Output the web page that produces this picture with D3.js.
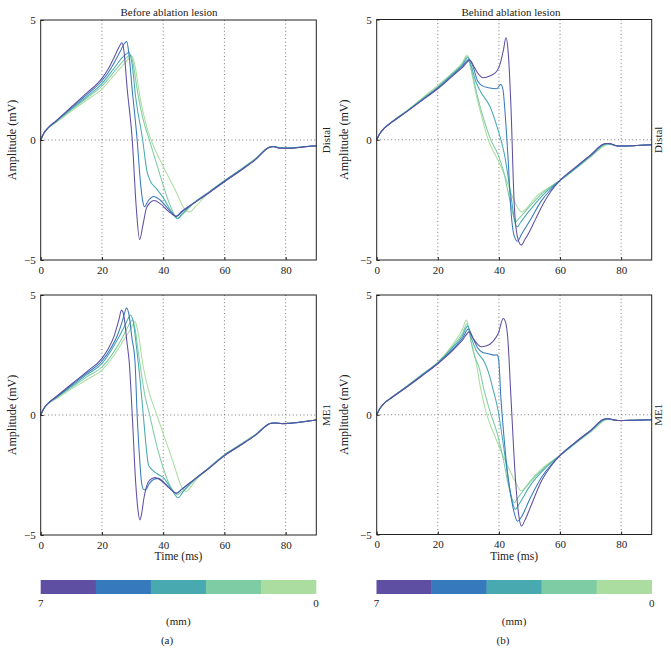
<!DOCTYPE html>
<html><head><meta charset="utf-8">
<script src="https://cdn.jsdelivr.net/npm/d3@7"></script>
<style>
body{margin:0;background:#fff}
text{font-family:"Liberation Serif","Times New Roman",serif;fill:#222}
</style>
</head><body><svg id="c" width="671" height="662"></svg>
<script>
// ---------- data ----------
const lesionColors = ["#5e4fa2","#3679bc","#48a9b0","#7ecca4","#abdda0"]; // 7 mm ... 0 mm
const distanceEdges = [7, 5.6, 4.2, 2.8, 1.4, 0];
const distanceTickLabels = ["7","0"];
const timeTicks = [0,20,40,60,80];
const ampTicks = [-5,0,5];
const columnTitles = ["Before ablation lesion","Behind ablation lesion"];
const rowLabels = ["Distal","ME1"];
const panelLetters = ["(a)","(b)"];

// Before ablation lesion, distal electrode (7 mm -> 0 mm)
const beforeDistal7 = [[0,0],[1,0.28],[2.5,0.52],[5,0.8],[10,1.38],[15,1.95],[20,2.57],[22,2.95],[24,3.45],[25.5,3.85],[26.5,4.05],[27.2,3.7],[28.2,2.2],[29.9,0],[31.2,-2.8],[32.3,-4.15],[33.3,-3.6],[34.5,-2.85],[35.8,-2.6],[37,-2.52],[39,-2.65],[42,-3.0],[44.4,-3.19],[46,-3.0],[50,-2.64],[55,-2.2],[60,-1.74],[65,-1.3],[70,-0.84],[74.8,-0.3],[76,-0.28],[78,-0.34],[82,-0.34],[86,-0.29],[90,-0.24]];
const beforeDistal56 = [[0,0],[1,0.28],[2.5,0.52],[5,0.79],[10,1.34],[15,1.88],[20,2.47],[22,2.8],[24,3.22],[26,3.7],[27.3,4.02],[28.1,4.1],[28.8,3.6],[29.8,2.2],[31.5,0],[32.6,-1.8],[33.4,-2.6],[33.9,-2.78],[35,-2.55],[36.9,-2.35],[39,-2.5],[42,-2.92],[44.3,-3.17],[46,-2.98],[50,-2.62],[55,-2.18],[60,-1.72],[65,-1.28],[70,-0.82],[74.9,-0.29],[76,-0.27],[78,-0.33],[82,-0.33],[86,-0.28],[90,-0.24]];
const beforeDistal42 = [[0,0],[1,0.27],[2.5,0.51],[5,0.77],[10,1.3],[15,1.8],[20,2.35],[24,3.0],[27,3.48],[28.9,3.65],[29.8,3.2],[31,1.8],[33.3,0],[34.7,-1.3],[35.9,-1.74],[37.5,-1.98],[40,-2.4],[42.5,-2.95],[44.7,-3.27],[46,-3.1],[50,-2.62],[55,-2.17],[60,-1.71],[65,-1.27],[70,-0.81],[75,-0.28],[76,-0.27],[78,-0.33],[82,-0.33],[86,-0.28],[90,-0.24]];
const beforeDistal28 = [[0,0],[1,0.27],[2.5,0.5],[5,0.75],[10,1.26],[15,1.74],[20,2.25],[24,2.85],[27,3.3],[29.4,3.54],[30.3,3.1],[31.5,2.1],[33,1.1],[35.6,-0.05],[38,-1.05],[40.5,-2.08],[42.5,-2.8],[44.8,-3.28],[46.2,-3.12],[50,-2.62],[55,-2.16],[60,-1.7],[65,-1.26],[70,-0.8],[75.1,-0.28],[76,-0.27],[78,-0.32],[82,-0.33],[86,-0.28],[90,-0.24]];
const beforeDistal14 = [[0,0],[1,0.27],[2.5,0.5],[5,0.73],[10,1.2],[15,1.66],[20,2.12],[24,2.7],[27.5,3.2],[29.8,3.5],[30.7,3.15],[32.4,1.8],[34.6,0.56],[37,-0.3],[39.5,-0.97],[44,-2.1],[47.5,-2.95],[48.6,-3.0],[50.5,-2.78],[55,-2.17],[60,-1.7],[65,-1.25],[70,-0.79],[75.3,-0.27],[76.5,-0.27],[78,-0.31],[82,-0.32],[86,-0.28],[90,-0.24]];

// Behind ablation lesion, distal electrode
const behindDistal7 = [[0,0],[1,0.25],[2.5,0.48],[5,0.73],[10,1.18],[15,1.65],[20,2.12],[25,2.67],[28,3.0],[30.5,3.3],[32,3.0],[33.5,2.7],[34.9,2.58],[37,2.65],[39.3,2.85],[40.5,3.2],[41.5,3.75],[42.3,4.24],[43,3.7],[43.9,1.5],[45,-2.65],[46,-4.0],[47.3,-4.38],[48.5,-4.15],[50.2,-3.77],[52,-3.3],[54.5,-2.66],[57,-2.15],[60,-1.69],[65,-1.15],[70,-0.63],[74.8,-0.16],[76,-0.16],[79,-0.26],[84,-0.25],[90,-0.21]];
const behindDistal56 = [[0,0],[1,0.25],[2.5,0.48],[5,0.74],[10,1.19],[15,1.67],[20,2.15],[25,2.71],[28,3.05],[30.3,3.35],[31.5,3.05],[33,2.45],[34.5,2.25],[37,2.15],[39.3,2.12],[40.6,2.3],[41.3,2.1],[42.2,0.8],[42.9,-0.57],[44.1,-3.2],[45,-4.0],[46.1,-4.22],[47.3,-3.95],[50.2,-3.35],[54,-2.52],[57,-2.07],[60,-1.69],[65,-1.17],[70,-0.65],[75,-0.17],[76.2,-0.17],[79,-0.26],[84,-0.25],[90,-0.21]];
const behindDistal42 = [[0,0],[1,0.25],[2.5,0.48],[5,0.74],[10,1.2],[15,1.69],[20,2.18],[25,2.75],[28,3.1],[29.9,3.42],[31,3.05],[32.5,2.4],[34,2.0],[37,1.4],[39.6,0.45],[41.8,-0.6],[43.9,-2.3],[45.5,-3.55],[46,-3.62],[47,-3.45],[50,-2.95],[54,-2.35],[57,-2.0],[60,-1.69],[65,-1.19],[70,-0.67],[75.2,-0.17],[76.4,-0.18],[79,-0.26],[84,-0.25],[90,-0.21]];
const behindDistal28 = [[0,0],[1,0.25],[2.5,0.48],[5,0.75],[10,1.21],[15,1.71],[20,2.2],[25,2.78],[28,3.15],[29.7,3.46],[31,2.9],[32.8,1.9],[34.7,1.0],[37,0.1],[39.8,-0.65],[41.5,-1.3],[43.2,-2.3],[44.8,-3.2],[45.4,-3.42],[46.5,-3.28],[50,-2.78],[54,-2.25],[57,-1.95],[60,-1.69],[65,-1.2],[70,-0.69],[75.5,-0.18],[76.6,-0.19],[79,-0.26],[84,-0.25],[90,-0.21]];
const behindDistal14 = [[0,0],[1,0.25],[2.5,0.48],[5,0.75],[10,1.22],[15,1.74],[20,2.26],[25,2.81],[28,3.2],[29.6,3.52],[31,2.85],[32.5,1.9],[34.3,1.0],[36.5,0.0],[39.5,-0.8],[41.8,-1.45],[44.7,-2.45],[47.5,-3.0],[49,-2.85],[52.3,-2.35],[55,-2.1],[60,-1.7],[65,-1.22],[70,-0.72],[75.8,-0.2],[77,-0.21],[79,-0.26],[84,-0.25],[90,-0.21]];

// Before ablation lesion, ME1 electrode
const beforeME17 = [[0,0],[1,0.27],[2.5,0.5],[5,0.76],[10,1.28],[15,1.8],[20,2.36],[22,2.75],[24,3.3],[25.5,3.95],[26.4,4.37],[27.2,4.1],[28.2,3.0],[28.9,2.22],[29.9,0],[31,-2.78],[31.8,-4.0],[32.4,-4.37],[33.1,-4.0],[33.7,-3.47],[34.6,-2.95],[35.6,-2.71],[37.3,-2.61],[39.5,-2.75],[42,-3.05],[44.5,-3.26],[46,-3.1],[50,-2.7],[55,-2.22],[60,-1.7],[65,-1.28],[70,-0.86],[75,-0.35],[76,-0.33],[79,-0.36],[84,-0.31],[90,-0.21]];
const beforeME156 = [[0,0],[1,0.27],[2.5,0.5],[5,0.74],[10,1.24],[15,1.74],[20,2.25],[23,2.8],[25,3.3],[26.5,3.85],[27.5,4.3],[28,4.47],[28.8,4.2],[29.8,3.2],[30.8,2.22],[31.5,0],[32.4,-2.0],[32.9,-2.78],[33.6,-3.1],[34.2,-3.12],[35.5,-2.85],[37,-2.68],[38.4,-2.64],[41,-2.9],[44.3,-3.26],[46,-3.1],[50,-2.7],[55,-2.2],[60,-1.68],[65,-1.27],[70,-0.85],[75.1,-0.34],[76.2,-0.33],[79,-0.36],[84,-0.31],[90,-0.21]];
const beforeME142 = [[0,0],[1,0.26],[2.5,0.49],[5,0.72],[10,1.19],[15,1.67],[20,2.15],[24,2.9],[27,3.6],[28.5,4.0],[29.3,4.17],[30.2,3.9],[31.3,2.8],[32.4,1.53],[33.5,0],[34.5,-1.4],[35.2,-2.08],[36.5,-2.3],[38,-2.45],[40,-2.6],[42.5,-3.05],[44.9,-3.45],[46.5,-3.2],[50,-2.72],[55,-2.2],[60,-1.67],[65,-1.26],[70,-0.84],[75.2,-0.34],[76.4,-0.33],[79,-0.35],[84,-0.31],[90,-0.21]];
const beforeME128 = [[0,0],[1,0.26],[2.5,0.48],[5,0.7],[10,1.14],[15,1.59],[20,2.0],[24,2.65],[27,3.3],[29,3.8],[30,3.98],[30.8,3.6],[32,2.5],[34,0.83],[35.6,0],[37,-0.8],[38.4,-1.53],[40,-2.2],[41.6,-2.78],[43.5,-3.2],[44.6,-3.33],[46,-3.2],[50,-2.72],[55,-2.19],[60,-1.66],[65,-1.25],[70,-0.83],[75.3,-0.34],[76.5,-0.33],[79,-0.35],[84,-0.3],[90,-0.21]];
const beforeME114 = [[0,0],[1,0.25],[2.5,0.47],[5,0.67],[10,1.08],[15,1.47],[20,1.87],[24,2.5],[27,3.1],[29.5,3.6],[30.8,3.9],[31.7,3.5],[33.5,2.0],[35.5,0.9],[37.8,0.05],[40.5,-0.95],[43.2,-1.94],[46,-2.99],[47.6,-3.19],[48.7,-3.05],[50,-2.82],[55,-2.2],[60,-1.65],[65,-1.24],[70,-0.82],[75.5,-0.34],[76.7,-0.33],[79,-0.35],[84,-0.3],[90,-0.21]];

// Behind ablation lesion, ME1 electrode
const behindME17 = [[0,0],[1,0.25],[2.5,0.48],[5,0.72],[10,1.17],[15,1.64],[20,2.13],[25,2.7],[28,3.1],[30.3,3.46],[31.5,3.2],[33,2.95],[34.1,2.84],[36,2.88],[38,3.05],[39.8,3.4],[41.4,4.02],[42.2,3.85],[42.9,3.2],[43.9,0.82],[45.4,-2.67],[46.5,-4.2],[47.4,-4.65],[48.5,-4.4],[50.5,-3.8],[54,-2.75],[57,-2.15],[60,-1.7],[65,-1.15],[70,-0.65],[74.8,-0.17],[76,-0.17],[79,-0.24],[84,-0.23],[90,-0.21]];
const behindME156 = [[0,0],[1,0.25],[2.5,0.48],[5,0.72],[10,1.18],[15,1.66],[20,2.15],[25,2.75],[28,3.18],[30,3.58],[31.5,3.2],[33,2.8],[34.7,2.6],[36.5,2.55],[38.5,2.49],[39.4,2.5],[39.9,2.3],[40.7,0.6],[41.5,-0.7],[42.7,-2.3],[44,-3.45],[45,-4.1],[46.1,-4.45],[47.2,-4.3],[50,-3.55],[54,-2.6],[57,-2.1],[60,-1.7],[65,-1.16],[70,-0.66],[75,-0.17],[76.2,-0.18],[79,-0.24],[84,-0.23],[90,-0.21]];
const behindME142 = [[0,0],[1,0.25],[2.5,0.48],[5,0.73],[10,1.19],[15,1.68],[20,2.17],[25,2.82],[28,3.28],[29.8,3.7],[31,3.2],[32.5,2.7],[35.2,2.21],[36.5,1.8],[38,1.1],[39.6,0.26],[41.8,-1.56],[43.9,-3.37],[45.4,-3.95],[46.5,-3.75],[50,-3.0],[55,-2.25],[60,-1.7],[65,-1.18],[70,-0.68],[75.2,-0.18],[76.4,-0.19],[79,-0.24],[84,-0.23],[90,-0.21]];
const behindME128 = [[0,0],[1,0.25],[2.5,0.48],[5,0.73],[10,1.2],[15,1.69],[20,2.18],[25,2.87],[28,3.38],[29.6,3.8],[31,3.0],[32.2,2.4],[33.6,1.93],[35,1.1],[36.8,0.26],[39.6,-0.86],[41.5,-1.9],[42.9,-2.81],[44.3,-3.5],[45,-3.68],[46,-3.5],[50,-2.85],[55,-2.2],[60,-1.7],[65,-1.19],[70,-0.7],[75.4,-0.19],[76.6,-0.2],[79,-0.24],[84,-0.23],[90,-0.21]];
const behindME114 = [[0,0],[1,0.25],[2.5,0.48],[5,0.74],[10,1.21],[15,1.7],[20,2.2],[25,2.95],[28,3.55],[29.4,3.95],[30.5,3.3],[31.5,2.7],[32.5,2.21],[34,1.1],[35.8,0.12],[39,-1.0],[42.3,-1.97],[45,-2.7],[47.3,-3.17],[48.5,-3.05],[50,-2.8],[55,-2.15],[60,-1.7],[65,-1.2],[70,-0.72],[75.7,-0.2],[77,-0.21],[79,-0.24],[84,-0.23],[90,-0.21]];

// ---------- layout ----------
const svg = d3.select("#c");
const panels = [
  {col:0,row:0,left:40.7,right:316.3,top:20,bottom:260,series:[beforeDistal7,beforeDistal56,beforeDistal42,beforeDistal28,beforeDistal14]},
  {col:1,row:0,left:376.7,right:651.7,top:19.5,bottom:260,series:[behindDistal7,behindDistal56,behindDistal42,behindDistal28,behindDistal14]},
  {col:0,row:1,left:40.7,right:316.3,top:295,bottom:535,series:[beforeME17,beforeME156,beforeME142,beforeME128,beforeME114]},
  {col:1,row:1,left:376.7,right:651.7,top:295,bottom:534.5,series:[behindME17,behindME156,behindME142,behindME128,behindME114]}
];

panels.forEach(p => {
  const x = d3.scaleLinear().domain([0,90]).range([p.left,p.right]);
  const y = d3.scaleLinear().domain([-5,5]).range([p.bottom,p.top]);
  const g = svg.append("g");

  // grid (dotted)
  g.selectAll(".gx").data(timeTicks.filter(t=>t>0)).join("line")
    .attr("x1",d=>x(d)).attr("x2",d=>x(d)).attr("y1",p.top).attr("y2",p.bottom)
    .attr("stroke","#555").attr("stroke-width",0.8).attr("stroke-dasharray","1,2.6");
  g.selectAll(".gy").data(ampTicks.filter(v=>v===0)).join("line")
    .attr("x1",p.left).attr("x2",p.right).attr("y1",d=>y(d)).attr("y2",d=>y(d))
    .attr("stroke","#555").attr("stroke-width",0.8).attr("stroke-dasharray","1,2.6");

  // curves: 0 mm drawn first, 7 mm last
  const line = d3.line().x(d=>x(d[0])).y(d=>y(d[1])).curve(d3.curveMonotoneX);
  const order = [4,3,2,1,0];
  order.forEach(i => {
    g.append("path").datum(p.series[i]).attr("d",line)
      .attr("fill","none").attr("stroke",lesionColors[i]).attr("stroke-width",1.05);
  });

  // axes
  const xAxis = d3.axisBottom(x).tickValues(timeTicks).tickSize(-3).tickPadding(6).tickFormat(d3.format("d"));
  const yAxis = d3.axisLeft(y).tickValues(ampTicks).tickSize(-3).tickPadding(5).tickFormat(d=>d<0?"\u2212"+Math.abs(d):String(d));
  const xa = g.append("g").attr("transform",`translate(0,${p.bottom})`).call(xAxis);
  const ya = g.append("g").attr("transform",`translate(${p.left},0)`).call(yAxis);
  [xa,ya].forEach(a=>{
    a.select(".domain").remove();
    a.selectAll("line").attr("stroke","#222");
    a.selectAll("text").attr("font-size",11).attr("fill","#222")
      .style("font-family","'Liberation Serif','Times New Roman',serif");
  });
  // frame
  g.append("rect").attr("x",p.left).attr("y",p.top).attr("width",p.right-p.left).attr("height",p.bottom-p.top)
    .attr("fill","none").attr("stroke","#222").attr("stroke-width",1);

  // y label
  const ylx = p.col===0 ? 13.5 : 345;
  const cy = (p.top+p.bottom)/2;
  g.append("text").attr("transform",`translate(${ylx},${cy}) rotate(-90)`)
    .attr("text-anchor","middle").attr("dominant-baseline","middle").attr("font-size",12)
    .text("Amplitude (mV)");
  // row label
  const rlx = p.col===0 ? 327 : 659;
  g.append("text").attr("transform",`translate(${rlx},${cy}) rotate(-90)`)
    .attr("text-anchor","middle").attr("dominant-baseline","middle").attr("font-size",11)
    .text(rowLabels[p.row]);
  // column title
  if (p.row===0) {
    g.append("text").attr("x", p.col===0?169:511).attr("y",16)
      .attr("text-anchor","middle").attr("font-size",11).text(columnTitles[p.col]);
  } else {
    g.append("text").attr("x",(p.left+p.right)/2).attr("y",559.5)
      .attr("text-anchor","middle").attr("font-size",11.5).text("Time (ms)");
  }
});

// ---------- colour bars ----------
[{left:40.7,right:316,letterX:167},{left:376.5,right:651.7,letterX:503}].forEach((cb,k)=>{
  const s = d3.scaleLinear().domain([7,0]).range([cb.left,cb.right]);
  const g = svg.append("g");
  const segs = d3.range(5).map(i=>({a:distanceEdges[i],b:distanceEdges[i+1],c:lesionColors[i]}));
  g.selectAll("rect").data(segs).join("rect")
    .attr("x",d=>s(d.a)).attr("width",d=>s(d.b)-s(d.a)+0.3)
    .attr("y",580).attr("height",14).attr("fill",d=>d.c);
  g.selectAll(".lbl").data([7,0]).join("text")
    .attr("x",d=>s(d)).attr("y",607).attr("text-anchor","middle").attr("font-size",11)
    .text((d,i)=>distanceTickLabels[i]);
  g.append("text").attr("x",(cb.left+cb.right)/2).attr("y",625).attr("text-anchor","middle")
    .attr("font-size",11).text("(mm)");
  g.append("text").attr("x",cb.letterX).attr("y",644).attr("text-anchor","middle")
    .attr("font-size",11).text(panelLetters[k]);
});
</script>
</body></html>
